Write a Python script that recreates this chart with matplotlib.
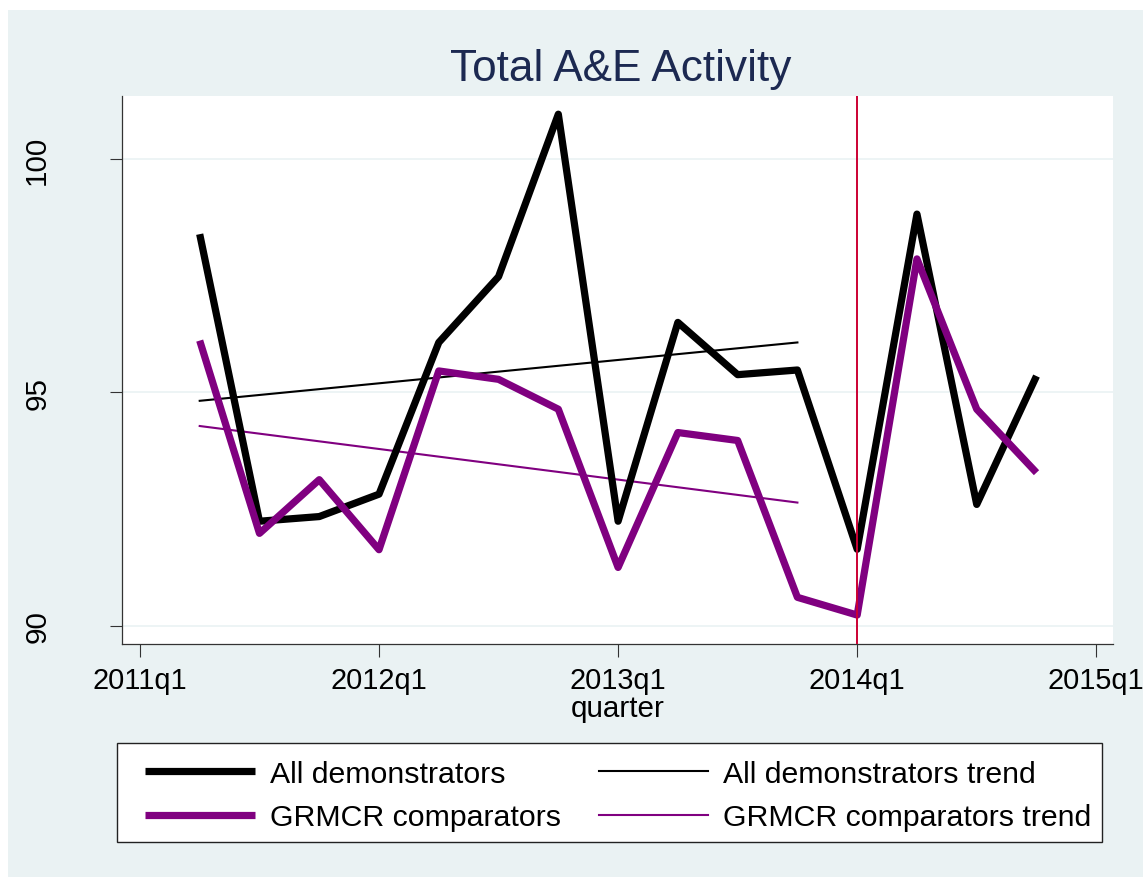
import matplotlib
matplotlib.use("Agg")
import matplotlib.pyplot as plt
from matplotlib.patches import Rectangle

plt.rcParams['font.family'] = ['Liberation Sans', 'DejaVu Sans']

# ---------------- data ----------------
quarters = ['2011q2', '2011q3', '2011q4', '2012q1', '2012q2', '2012q3', '2012q4',
            '2013q1', '2013q2', '2013q3', '2013q4', '2014q1', '2014q2', '2014q3', '2014q4']
all_demo = [98.39, 92.24, 92.34, 92.82, 96.07, 97.48, 100.96,
            92.24, 96.50, 95.38, 95.48, 91.64, 98.82, 92.60, 95.35]
grmcr = [96.11, 91.98, 93.13, 91.63, 95.46, 95.28, 94.64,
         91.25, 94.14, 93.97, 90.61, 90.23, 97.86, 94.64, 93.28]
trend_quarters = ['2011q2', '2013q4']
all_trend = [94.82, 96.07]
grmcr_trend = [94.28, 92.64]
intervention = '2014q1'
xtick_labels = ['2011q1', '2012q1', '2013q1', '2014q1', '2015q1']
yticks = [90, 95, 100]
title = 'Total A&E Activity'
xlabel = 'quarter'
legend_labels = ['All demonstrators', 'GRMCR comparators',
                 'All demonstrators trend', 'GRMCR comparators trend']


def qnum(s):
    y, q = s.split('q')
    return (int(y) - 2011) * 4 + (int(q) - 1)


W, H = 1143, 878
BG = '#EAF2F3'
PURPLE = '#800080'
FS = 21.3
XFS = 20.8
LFS = 21.8

fig = plt.figure(figsize=(W / 100, H / 100), dpi=100, facecolor='white')
fig.patches.append(Rectangle((8 / W, 0), 1 - 8 / W, 1 - 11 / H, transform=fig.transFigure,
                             facecolor=BG, edgecolor='none', zorder=-10))

ax = fig.add_axes([122 / W, 1 - 645 / H, (1113 - 122) / W, (645 - 97) / H])
ax.set_facecolor('white')

x = [qnum(q) for q in quarters]
tx = [qnum(q) for q in trend_quarters]

for yv in yticks:
    ax.axhline(yv, color=BG, lw=1.2, zorder=0)

l1, = ax.plot(x, all_demo, color='black', lw=5.2, solid_joinstyle='round',
              solid_capstyle='butt', zorder=3)
l3, = ax.plot(x, grmcr, color=PURPLE, lw=5.2, solid_joinstyle='round',
              solid_capstyle='butt', zorder=3)
l2, = ax.plot(tx, all_trend, color='black', lw=1.5, zorder=2)
l4, = ax.plot(tx, grmcr_trend, color=PURPLE, lw=1.5, zorder=2)
ax.axvline(qnum(intervention), color='#CC0033', lw=1.4, zorder=4)

ax.set_xlim(-0.30, 16.28)
ax.set_ylim(89.61, 101.35)

ax.set_xticks([qnum(s) for s in xtick_labels])
ax.set_xticklabels(xtick_labels, fontsize=XFS)
ax.set_yticks(yticks)
ax.set_yticklabels([str(v) for v in yticks], fontsize=FS, rotation=90, va='center')
ax.tick_params(axis='x', length=9, width=0.8, color='#333333', pad=6.5)
ax.tick_params(axis='y', length=9, width=0.8, color='#333333', pad=42)

for s in ['top', 'right']:
    ax.spines[s].set_visible(False)
for s in ['left', 'bottom']:
    ax.spines[s].set_color('#333333')
    ax.spines[s].set_linewidth(0.9)

ax.set_xlabel(xlabel, fontsize=FS, labelpad=0)

fig.text(621 / W, 1 - 70 / H, title, fontsize=31.8, color='#1C2951',
         ha='center', va='center')

# legend frame
fig.patches.append(Rectangle((117 / W, 1 - 843 / H), (1102 - 117) / W, (843 - 744) / H,
                             transform=fig.transFigure, facecolor='white',
                             edgecolor='#222222', lw=1.0, zorder=1))
leg = fig.legend([l1, l3, l2, l4], legend_labels, ncol=2, loc='upper left',
                 bbox_to_anchor=(145 / W, 1 - 761 / H), borderaxespad=0,
                 borderpad=0, frameon=False, fontsize=LFS, handlelength=3.62,
                 handletextpad=0.5, columnspacing=1.25, labelspacing=0.5)
leg.set_zorder(5)

fig.savefig('out.png', dpi=100, facecolor=fig.get_facecolor())
